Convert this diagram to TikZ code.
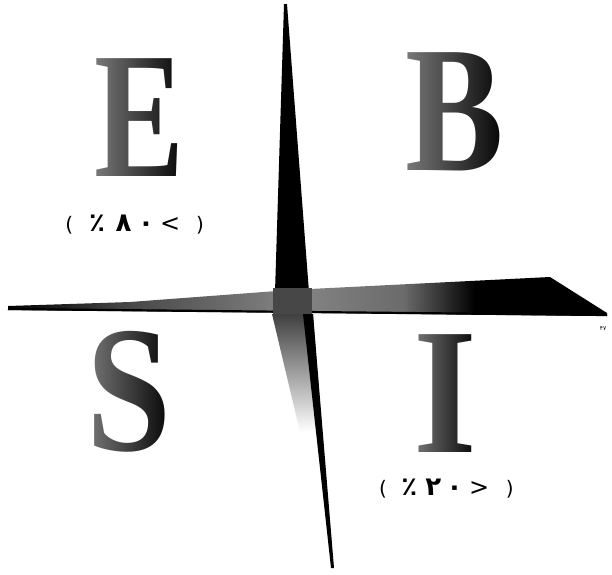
\documentclass[tikz,border=0pt]{standalone}
\usepackage{fontspec}
\setmainfont{Liberation Serif}
\newfontfamily\arabicfont{DejaVu Sans}
\usetikzlibrary{fadings,calc}
\tikzfading[name=lightleft, left color=transparent!35, right color=transparent!100]
\pgfdeclarehorizontalshading{barshade}{100bp}{color(0bp)=(black); color(25bp)=(black); color(35bp)=(black!72); color(49bp)=(black!48); color(58bp)=(black!58); color(64bp)=(black); color(100bp)=(black)}
\newcommand{\pr}[1]{{\fontsize{20}{20}\selectfont #1}}
\newcommand{\dg}[1]{{\bfseries\fontsize{26}{26}\selectfont #1}}
\newcommand{\cm}[1]{{\fontsize{24}{24}\selectfont #1}}
\begin{document}
\begin{tikzpicture}[x=1pt,y=-1pt,
  bigletter/.style={font=\fontsize{180}{180}\selectfont\bfseries, inner sep=0pt, anchor=base, text=black},
  label/.style={font=\arabicfont, inner sep=0pt, anchor=base},
  fadecover/.style={white, path fading=lightleft, fill opacity=0.75},
  barfill/.style={black}]
\useasboundingbox (0,0) rectangle (612,574);
\fill[white] (0,0) rectangle (612,574);

% horizontal bar
\shade[shading=barshade]
  (8,306) -- (130,302) -- (290,290) -- (550,277) -- (607,313) -- (607,316) -- (8,310) -- cycle;
\draw[black, line width=2.2pt] (8,309) -- (607,315);

% vertical bar, upper part
\fill[barfill] (284,4) -- (287,4) -- (309,292) -- (275,292) -- cycle;
% crossing
\fill[black!72] (273,288) rectangle (312,316);
% vertical bar, lower part
\shade[top color=black!75, bottom color=white] (272,314) -- (313,314) -- (322,432) -- (300,432) -- cycle;
\fill[barfill] (303,314) -- (313,314) -- (334,568) -- (331,568) -- cycle;

% letters
\node[bigletter] (E) at (140,176) {\scalebox{0.75}[1]{E}};
\node[bigletter] (B) at (455,170) {\scalebox{0.82}[1]{B}};
\node[bigletter] (S) at (129,450) {\scalebox{0.85}[1]{S}};
\node[bigletter] (I) at (445,452) {\scalebox{0.91}[1]{I}};
\foreach \n in {E,B,S,I}
  \fill[fadecover] ($(\n.south west)+(-2,2)$) rectangle ($(\n.north east)+(2,-2)$);

% label under E
\node[label] (lowE) at (136,231) {\makebox[26.5pt]{\pr{(}}\makebox[29pt]{\dg{٪}}\makebox[24pt]{\dg{٨}}\makebox[21pt]{\dg{٠}}\makebox[27.5pt]{\cm{<}}\makebox[32pt]{\pr{)}}};

% label under I
\node[label] (lowI) at (448,495) {\makebox[26pt]{\pr{(}}\makebox[26.5pt]{\dg{٪}}\makebox[21.5pt]{\dg{٢}}\makebox[21pt]{\dg{٠}}\makebox[28.5pt]{\cm{>}}\makebox[32.5pt]{\pr{)}}};

% page number
\node[font=\arabicfont\fontsize{6}{6}\selectfont, inner sep=0pt] (pg) at (603,329) {۴۷};
\end{tikzpicture}
\end{document}
